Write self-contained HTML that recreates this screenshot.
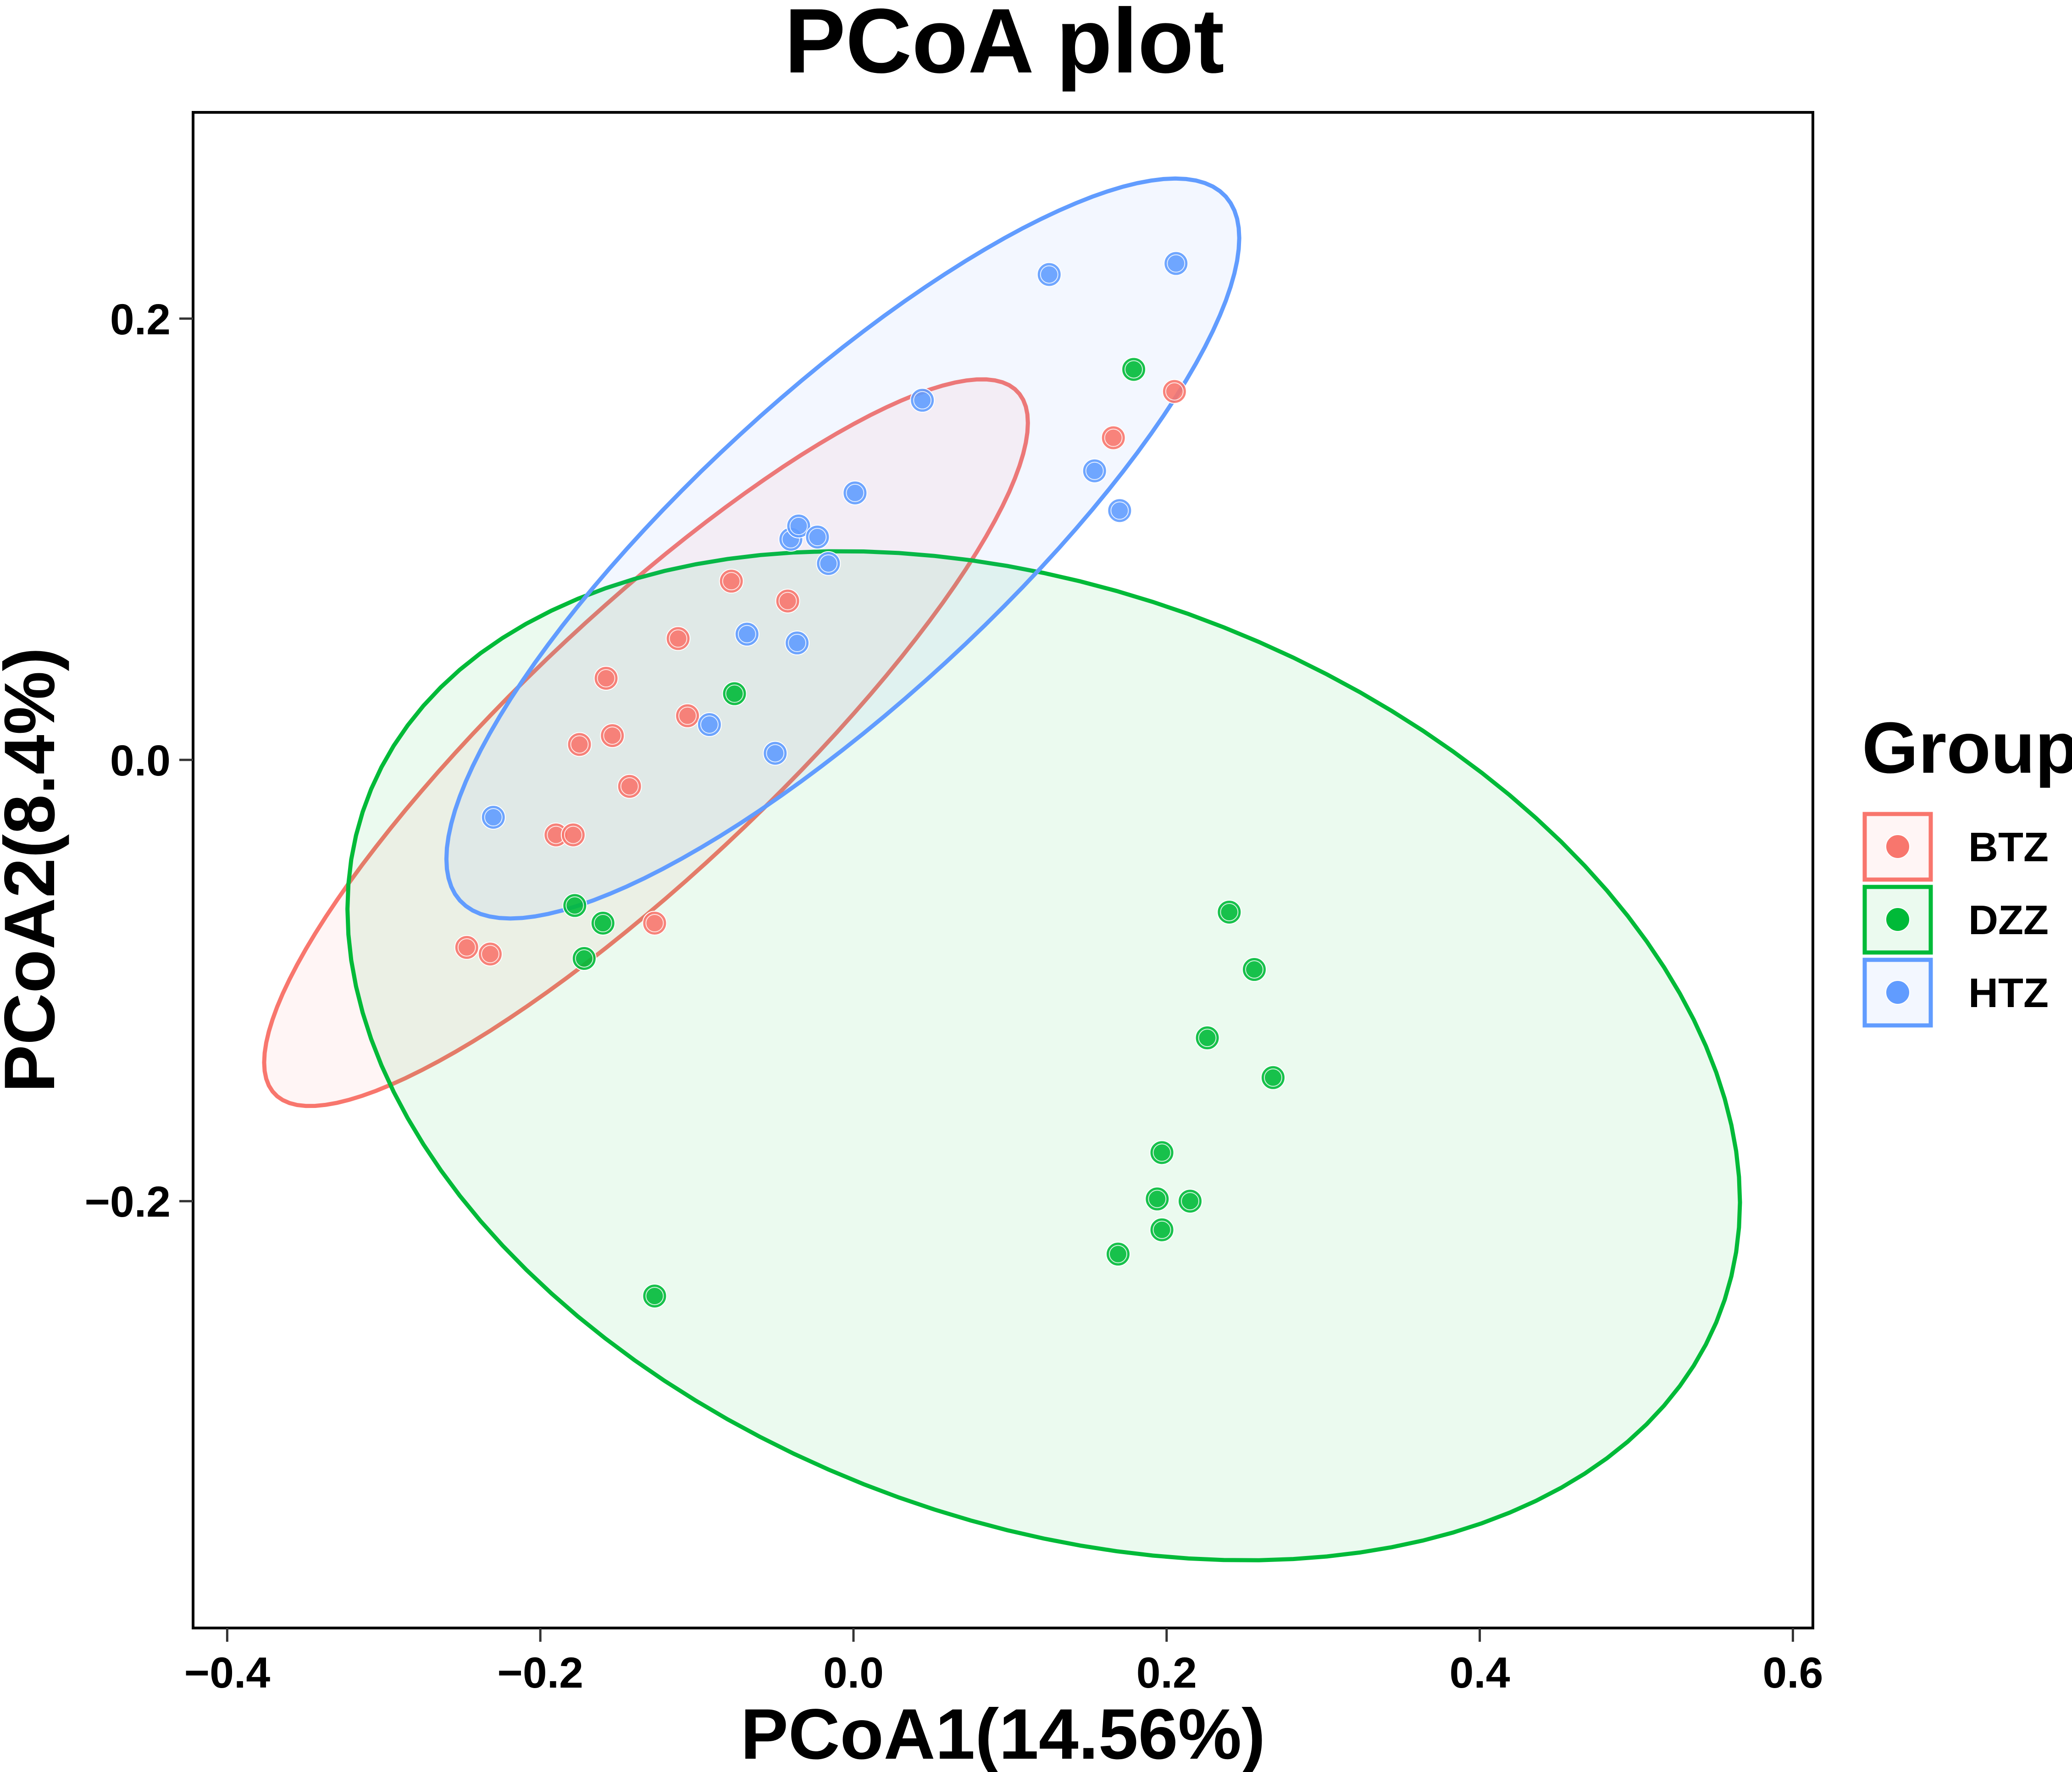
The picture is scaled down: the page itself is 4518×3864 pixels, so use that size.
<!DOCTYPE html>
<html><head><meta charset="utf-8"><style>
html,body{margin:0;padding:0;background:#fff;}
svg{display:block;font-family:"Liberation Sans",Arial,sans-serif;font-weight:bold;}
</style></head><body>
<svg id="chart" width="4518" height="3864" viewBox="0 0 4518 3864" xmlns="http://www.w3.org/2000/svg">
<rect x="0" y="0" width="4518" height="3864" fill="#fff"/>
<text x="2190" y="158" font-size="200" text-anchor="middle">PCoA plot</text>
<g id="ellipses"></g>
<g id="points"></g>
<rect x="421" y="245" width="3532" height="3305" fill="none" stroke="#000" stroke-width="6"/>
<g id="xaxis"></g>
<g id="yaxis"></g>
<text x="2187" y="3835" font-size="156" text-anchor="middle">PCoA1(14.56%)</text>
<text transform="translate(118,1897) rotate(-90)" font-size="156" text-anchor="middle">PCoA2(8.4%)</text>
<g id="legend">
<text x="4060" y="1685" font-size="158">Group</text>
</g>
</svg>
<script>
const groups = ["BTZ","DZZ","HTZ"];
const colors = ["#F8766D","#00BA38","#619CFF"];
const fills = ["rgba(248,118,109,0.07)","rgba(0,186,56,0.08)","rgba(97,156,255,0.08)"];
const btzX = [-0.247,-0.232,-0.190,-0.179,-0.175,-0.154,-0.158,-0.143,-0.112,-0.106,-0.078,-0.042,-0.127,0.166,0.205];
const btzY = [-0.085,-0.088,-0.034,-0.034,0.007,0.011,0.037,-0.012,0.055,0.020,0.081,0.072,-0.074,0.146,0.167];
const dzzX = [-0.178,-0.160,-0.172,-0.076,0.179,0.240,0.256,0.226,0.268,0.197,0.194,0.215,0.197,0.169,-0.127];
const dzzY = [-0.066,-0.074,-0.090,0.030,0.177,-0.069,-0.095,-0.126,-0.144,-0.178,-0.199,-0.200,-0.213,-0.224,-0.243];
const htzX = [-0.230,-0.092,-0.068,-0.050,-0.036,-0.040,-0.035,-0.023,-0.016,0.001,0.044,0.125,0.206,0.154,0.170];
const htzY = [-0.026,0.016,0.057,0.003,0.053,0.100,0.106,0.101,0.089,0.121,0.163,0.220,0.225,0.131,0.113];
const ellCX = [-0.1325,0.1215,-0.0068];
const ellCY = [0.0078,-0.1341,0.0958];
const ellHW = [0.2439,0.4447,0.2532];
const ellHH = [0.1647,0.2287,0.1677];
const ellRho = [0.880,-0.2907,0.839];
const xTicks = [-0.4,-0.2,0.0,0.2,0.4,0.6];
const xTickLabels = ["-0.4","-0.2","0.0","0.2","0.4","0.6"];
const yTicks = [-0.2,0.0,0.2];
const yTickLabels = ["-0.2","0.0","0.2"];

const NS="http://www.w3.org/2000/svg";
const xs = v => 1861 + v*3414;
const ys = v => 1657 - v*4811;
function mk(tag, attrs, parent){const e=document.createElementNS(NS,tag);for(const k in attrs)e.setAttribute(k,attrs[k]);parent.appendChild(e);return e;}
const eg=document.getElementById('ellipses');
for(let i=0;i<3;i++){
  let d="";
  const r=ellRho[i], s=Math.sqrt(1-r*r);
  for(let k=0;k<=120;k++){
    const t=k/120*2*Math.PI;
    const x=ellCX[i]+ellHW[i]*Math.cos(t);
    const y=ellCY[i]+ellHH[i]*(r*Math.cos(t)+s*Math.sin(t));
    d+=(k?"L":"M")+xs(x).toFixed(1)+","+ys(y).toFixed(1);
  }
  const p=mk('path',{d:d+"Z",fill:fills[i],stroke:colors[i],'stroke-width':9},eg);
  
  
}
const pg=document.getElementById('points');
const sets=[[btzX,btzY],[dzzX,dzzY],[htzX,htzY]];
for(let i=0;i<3;i++){
  const [X,Y]=sets[i];
  for(let j=0;j<X.length;j++){
    const c=mk('circle',{cx:xs(X[j]),cy:ys(Y[j]),r:26,fill:colors[i],stroke:'#fff','stroke-width':2,'fill-opacity':0.9},pg);
    
    
    mk('circle',{cx:xs(X[j]),cy:ys(Y[j]),r:19,fill:'none',stroke:'#fff','stroke-width':2,'stroke-opacity':0.8},pg);
  }
}
const xg=document.getElementById('xaxis');
xTicks.forEach((v,i)=>{
  const l=mk('line',{x1:xs(v),x2:xs(v),y1:3550,y2:3580,stroke:'#333','stroke-width':5},xg);
  
  
  const t=mk('text',{x:xs(v),y:3680,'font-size':95,'text-anchor':'middle'},xg);
  t.textContent=xTickLabels[i].replace('-','\u2212');
  
  
});
const yg=document.getElementById('yaxis');
yTicks.forEach((v,i)=>{
  const l=mk('line',{x1:391,x2:421,y1:ys(v),y2:ys(v),stroke:'#333','stroke-width':5},yg);
  
  
  const t=mk('text',{x:372,y:ys(v)+34,'font-size':95,'text-anchor':'end'},yg);
  t.textContent=yTickLabels[i].replace('-','\u2212');
  
  
});
const lg=document.getElementById('legend');
groups.forEach((g,i)=>{
  const y0=1775+i*159;
  const r=mk('rect',{x:4066,y:y0,width:144,height:143,fill:fills[i],stroke:colors[i],'stroke-width':9},lg);
  
  
  mk('circle',{cx:4138,cy:y0+71,r:26,fill:colors[i],stroke:'#fff','stroke-width':2},lg);
  const t=mk('text',{x:4292,y:y0+103,'font-size':90},lg);
  t.textContent=g;
  
  
});
</script>
</body></html>
